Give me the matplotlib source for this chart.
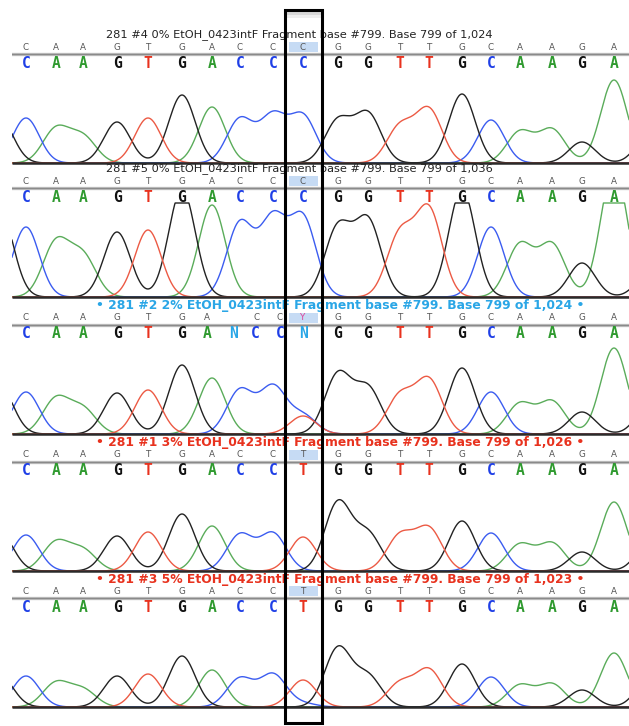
import numpy as np
import matplotlib.pyplot as plt
from matplotlib.patches import Rectangle

# %% Data
# positions are scan positions (about one pixel each), heights are pixels above baseline

peak_pos = [26, 56, 83, 117, 148, 182, 212, 240, 273, 303,
            338, 368, 400, 429, 462, 491, 520, 552, 582, 614]

trace_seq = ["CAAGTGACCCGGTTGCAAGA",
             "CAAGTGACCCGGTTGCAAGA",
             "CAAGTGACCCGGTTGCAAGA",
             "CAAGTGACCTGGTTGCAAGA",
             "CAAGTGACCTGGTTGCAAGA"]

peak_h = [
    [45, 37, 30, 41, 45, 68, 56, 46, 52, 50, 46, 52, 41, 56, 69, 43, 33, 35, 21, 83],
    [70, 59, 47, 65, 67, 108, 92, 77, 86, 84, 75, 81, 70, 92, 108, 70, 55, 55, 34, 130],
    [42, 38, 29, 41, 44, 69, 56, 46, 50, 22, 63, 50, 43, 57, 66, 42, 32, 34, 22, 86],
    [36, 31, 24, 35, 39, 57, 45, 38, 39, 34, 71, 42, 39, 45, 50, 38, 28, 29, 19, 69],
    [31, 26, 20, 31, 33, 51, 37, 30, 34, 27, 61, 35, 27, 39, 43, 30, 23, 24, 17, 54],
]

# extra peaks: edge peaks and the secondary peak under the boxed base
extra_peaks = [
    [("G", 0, 44), ("G", 650, 30)],
    [("G", 0, 86), ("G", 650, 25)],
    [("G", 0, 47), ("T", 303, 18), ("G", 650, 30)],
    [("G", 0, 38), ("C", 303, 3), ("G", 650, 30)],
    [("G", 0, 31), ("C", 303, 6), ("G", 650, 30)],
]

big_calls = ["CAAGTGACCCGGTTGCAAGA",
             "CAAGTGACCCGGTTGCAAGA",
             "CAAGTGANCCNGGTTGCAAGA",
             "CAAGTGACCTGGTTGCAAGA",
             "CAAGTGACCTGGTTGCAAGA"]
big_pos_p3 = [26, 56, 83, 117, 148, 182, 207, 233, 255, 280, 303,
              338, 368, 400, 429, 462, 491, 520, 552, 582, 614]

small_calls = ["CAAGTGACCCGGTTGCAAGA",
               "CAAGTGACCCGGTTGCAAGA",
               "CAAGTGACCYGGTTGCAAGA",
               "CAAGTGACCTGGTTGCAAGA",
               "CAAGTGACCTGGTTGCAAGA"]
small_pos_p3 = [26, 56, 83, 117, 148, 182, 207, 257, 280, 303,
                338, 368, 400, 429, 462, 491, 520, 552, 582, 614]

titles = ["281 #4 0% EtOH_0423intF Fragment base #799. Base 799 of 1,024",
          "281 #5 0% EtOH_0423intF Fragment base #799. Base 799 of 1,036",
          "• 281 #2 2% EtOH_0423intF Fragment base #799. Base 799 of 1,024 •",
          "• 281 #1 3% EtOH_0423intF Fragment base #799. Base 799 of 1,026 •",
          "• 281 #3 5% EtOH_0423intF Fragment base #799. Base 799 of 1,023 •"]
title_color = ["#222222", "#222222", "#2aa6e6", "#e8321e", "#e8321e"]

box_pos = 303  # the boxed base

# %% Styles
base_color = {"A": "#2f9a2f", "C": "#1f3fe6", "G": "#111111", "T": "#e8321e", "N": "#2aa6e6"}
trace_color = {"A": "#5aac5a", "C": "#3b5cf0", "G": "#222222", "T": "#ec5a44"}
sigma = 13.2
clip_top = 94

W, H = 629, 726
baselines = [163, 297, 434, 571, 707]   # pixel rows of each panel baseline


def channel_trace(x, peaks):
    # peaks: list of (pos, height); solve amplitudes so the drawn heights match
    if not peaks:
        return np.zeros_like(x)
    p = np.array([pk[0] for pk in peaks], float)
    t = np.array([pk[1] for pk in peaks], float)
    M = np.exp(-(p[:, None] - p[None, :]) ** 2 / (2 * sigma ** 2))
    amp = np.clip(np.linalg.solve(M, t), 0, None)
    y = np.zeros_like(x)
    for pi, ai in zip(p, amp):
        y += ai * np.exp(-(x - pi) ** 2 / (2 * sigma ** 2))
    return np.minimum(y, clip_top)


fig = plt.figure(figsize=(W / 100, H / 100), dpi=100)
fig.patch.set_facecolor("white")

x = np.linspace(12, 629, 1400)
big_font = ["Liberation Sans Narrow", "DejaVu Sans Mono"]

for i, base in enumerate(baselines):
    ax = fig.add_axes([12 / W, 1 - (base + 4) / H, 617 / W, 140 / H])
    ax.set_xlim(12, 629)
    ax.set_ylim(-4, 136)
    ax.axis("off")

    # traces
    for ch in "ACGT":
        pk = [(peak_pos[k], peak_h[i][k]) for k, b in enumerate(trace_seq[i]) if b == ch]
        pk += [(pos, h) for c, pos, h in extra_peaks[i] if c == ch]
        ax.plot(x, channel_trace(x, pk), color=trace_color[ch], lw=1.0, zorder=2)
    ax.plot([12, 629], [0, 0], color="#2a2a2a", lw=1.8, zorder=3, solid_capstyle="butt")

    # letter rows
    ax.plot([12, 629], [109.5, 109.5], color="#c4c4c4", lw=2.4, zorder=1)
    ax.plot([12, 629], [109.5, 109.5], color="#8a8a8a", lw=1.0, zorder=1)
    ax.add_patch(Rectangle((289, 111), 29, 10, fc="#c6dbf4", ec="none", zorder=1))

    bpos = big_pos_p3 if i == 2 else peak_pos
    for b, px in zip(big_calls[i], bpos):
        ax.text(px, 100, b, ha="center", va="center", color=base_color[b],
                fontsize=10.5, fontweight="bold", family=big_font, zorder=4)
    spos = small_pos_p3 if i == 2 else peak_pos
    for b, px in zip(small_calls[i], spos):
        ax.text(px, 116, b, ha="center", va="center",
                color="#e0409a" if b == "Y" else "#555555",
                fontsize=6.3, zorder=4)

    # title
    if i < 2:
        ax.text(106, 128.5, titles[i], ha="left", va="center", color=title_color[i],
                fontsize=8.2, zorder=4)
    else:
        ax.text(96, 128, titles[i], ha="left", va="center", color=title_color[i],
                fontsize=8.9, fontweight="bold", zorder=4)

# box around the base of interest
ov = fig.add_axes([0, 0, 1, 1], zorder=10)
ov.set_xlim(0, W)
ov.set_ylim(H, 0)
ov.axis("off")
ov.patch.set_alpha(0)
ov.add_patch(Rectangle((286, 11), 35, 4, fc="#d8d8d8", ec="none"))
ov.add_patch(Rectangle((286, 15), 35, 3, fc="#eeeeee", ec="none"))
ov.add_patch(Rectangle((box_pos - 18.5, 9.5), 37, 713, fill=False, ec="black", lw=2.2))

fig.savefig("out.png", dpi=100, facecolor="white")
